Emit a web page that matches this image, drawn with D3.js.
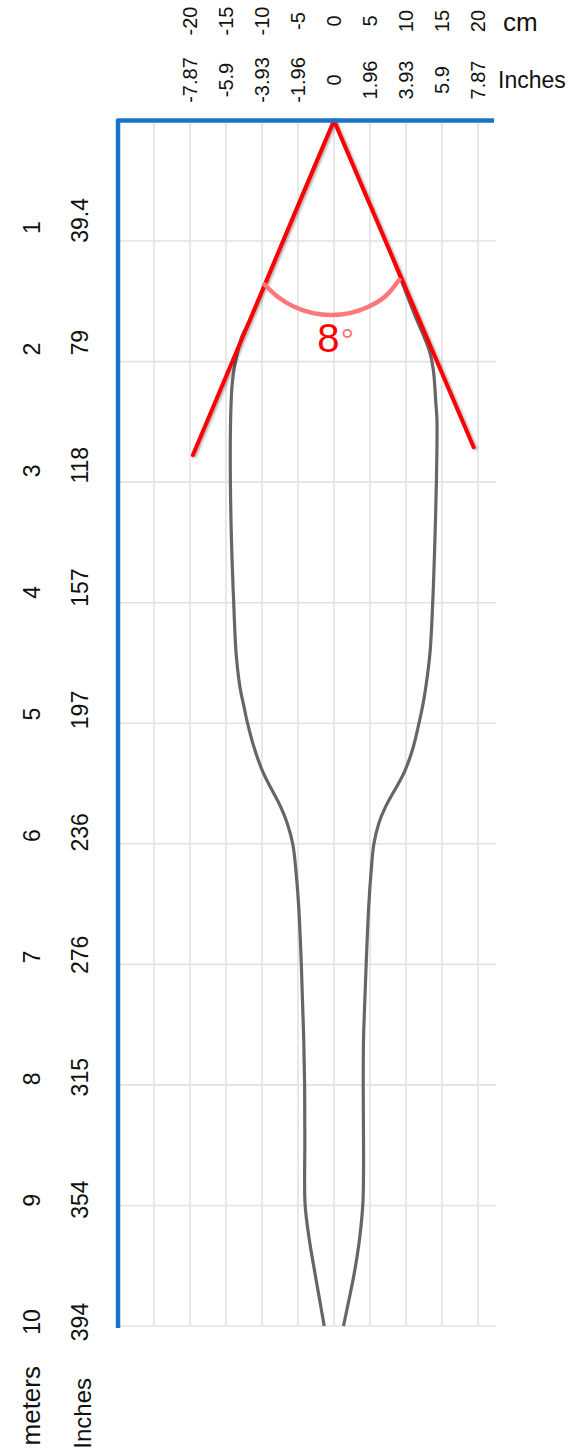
<!DOCTYPE html>
<html>
<head>
<meta charset="utf-8">
<script src="https://cdn.jsdelivr.net/npm/d3@7"></script>
<style>
  html, body { margin: 0; padding: 0; background: #fff; }
  svg { display: block; font-family: "Liberation Sans", Arial, sans-serif; }
</style>
</head>
<body>
<svg id="chart" width="568" height="1452"></svg>
<script>
// ---- data -------------------------------------------------------
const CM_TICKS    = [-20, -15, -10, -5, 0, 5, 10, 15, 20];
const CM_INCHES   = ["-7.87", "-5.9", "-3.93", "-1.96", "0", "1.96", "3.93", "5.9", "7.87"];
const GRID_CM     = [-25, -20, -15, -10, -5, 0, 5, 10, 15, 20];
const METER_TICKS = [1, 2, 3, 4, 5, 6, 7, 8, 9, 10];
const METER_INCHES = ["39.4", "79", "118", "157", "197", "236", "276", "315", "354", "394"];

// outline of the shape, [meters, cm]
const LEFT_EDGE = [
  [0, 0], [0.55, -3.96], [1.10, -7.8], [1.655, -11.67], [1.793, -12.8],
  [1.931, -13.42], [2.07, -13.9], [2.208, -14.17], [2.484, -14.36], [3.0, -14.39],
  [3.587, -14.19], [4.0, -13.93], [4.417, -13.6], [4.697, -13.07], [4.863, -12.5],
  [4.995, -12.03], [5.22, -11.0], [5.412, -9.82], [5.692, -7.42], [5.827, -6.51],
  [6.004, -5.72], [6.242, -5.26], [6.522, -4.9], [6.997, -4.54], [7.35, -4.35],
  [7.627, -4.2], [8.0, -4.08], [8.456, -4.05], [8.996, -4.01], [9.286, -3.42],
  [9.56, -2.65], [9.839, -1.83], [10.0, -1.36]
];
const RIGHT_EDGE = [
  [0, 0], [0.55, 3.9], [1.10, 7.85], [1.655, 11.5], [1.793, 12.5],
  [1.931, 13.35], [2.07, 13.8], [2.346, 14.15], [2.484, 14.3], [3.0, 14.22],
  [3.587, 13.96], [4.0, 13.71], [4.417, 13.33], [4.697, 12.76], [4.863, 12.29],
  [4.995, 11.82], [5.22, 10.9], [5.412, 9.72], [5.692, 7.17], [5.827, 6.24],
  [6.004, 5.53], [6.242, 5.14], [6.522, 4.82], [6.997, 4.47], [7.35, 4.25],
  [7.627, 4.1], [8.0, 4.06], [8.456, 4.1], [8.73, 4.1], [8.996, 4.0],
  [9.286, 3.53], [9.56, 2.82], [9.839, 1.88], [10.0, 1.32]
];

// red tangent lines and the angle arc, [meters, cm]
const RED_LEFT  = [[0, 0], [2.775, -19.6]];
const RED_RIGHT = [[0, 0], [2.71, 19.4]];
const ANGLE_ARC = [
  [1.35, -9.82], [1.466, -7.74], [1.545, -5.54], [1.598, -2.92], [1.613, -0.38],
  [1.598, 2.17], [1.545, 4.79], [1.458, 7.15], [1.309, 9.21]
];
const ANGLE_TEXT = "8";

// ---- scales -----------------------------------------------------
const svg = d3.select("#chart");
const x = d3.scaleLinear().domain([-30, 22.5]).range([118, 496]);
const y = d3.scaleLinear().domain([0, 10]).range([120.5, 1326]);
// left labels sit a bit above their grid line
const yLabM = d3.scaleLinear().domain([0, 10]).range([106, 1322]);
const yLabI = d3.scaleLinear().domain([0, 10]).range([98, 1322]);

const defs = svg.append("defs");
const shadow = defs.append("filter").attr("id", "shadow")
  .attr("x", "-20%").attr("y", "-20%").attr("width", "140%").attr("height", "140%");
shadow.append("feDropShadow").attr("dx", 1.5).attr("dy", 1).attr("stdDeviation", 1)
  .attr("flood-color", "#000").attr("flood-opacity", 0.35);
const soft = defs.append("filter").attr("id", "soft");
soft.append("feGaussianBlur").attr("stdDeviation", 0.5);

// ---- grid -------------------------------------------------------
const grid = svg.append("g").attr("stroke", "#e2e2e2").attr("stroke-width", 1.6);
grid.selectAll("line.v").data(GRID_CM).join("line").attr("class", "v")
  .attr("x1", d => x(d)).attr("x2", d => x(d))
  .attr("y1", y(0)).attr("y2", y(10));
grid.selectAll("line.h").data(METER_TICKS).join("line").attr("class", "h")
  .attr("x1", x(-30)).attr("x2", x(22.5))
  .attr("y1", d => y(d)).attr("y2", d => y(d));

// ---- shape outline ----------------------------------------------
const edge = d3.line()
  .x(d => x(d[1])).y(d => y(d[0]))
  .curve(d3.curveCatmullRom.alpha(0.5));

svg.append("g").selectAll("path").data([LEFT_EDGE, RIGHT_EDGE]).join("path")
  .attr("d", edge)
  .attr("fill", "none")
  .attr("stroke", "#666")
  .attr("stroke-width", 3.2)
  .attr("filter", "url(#soft)");

// ---- red lines + arc --------------------------------------------
const straight = d3.line().x(d => x(d[1])).y(d => y(d[0]));
svg.append("g").selectAll("path").data([RED_LEFT, RED_RIGHT]).join("path")
  .attr("d", straight)
  .attr("fill", "none")
  .attr("stroke", "#ff0000")
  .attr("stroke-width", 4)
  .attr("stroke-linecap", "round")
  .attr("filter", "url(#shadow)");

svg.append("path")
  .datum(ANGLE_ARC)
  .attr("d", edge)
  .attr("fill", "none")
  .attr("stroke", "#ff7878")
  .attr("stroke-width", 4.5);

const low = ANGLE_ARC[4];
const angleLabel = svg.append("text")
  .attr("x", x(low[1]) - 14)
  .attr("y", y(low[0]) + 37)
  .attr("font-size", 40)
  .attr("fill", "#ff0000")
  .text(ANGLE_TEXT);
angleLabel.append("tspan").attr("fill", "#ff7878").attr("font-size", 34)
  .attr("dx", 1).text("°");

// ---- blue frame (top + left) ------------------------------------
svg.append("path")
  .attr("d", d3.line()([[x(-30), y(10) + 2], [x(-30), y(0)], [x(22.5) - 2, y(0)]]))
  .attr("fill", "none")
  .attr("stroke", "#1a74c6")
  .attr("stroke-width", 4.5)
  .attr("stroke-linejoin", "round");

// ---- top labels (rotated) ---------------------------------------
const gTop = svg.append("g").attr("fill", "#111").attr("font-size", 20)
  .attr("text-anchor", "middle").attr("dominant-baseline", "central");
gTop.selectAll("text.cm").data(CM_TICKS).join("text").attr("class", "cm")
  .attr("transform", d => `translate(${x(d)},21) rotate(-90)`)
  .text(d => d);
gTop.selectAll("text.in").data(CM_TICKS).join("text").attr("class", "in")
  .attr("transform", d => `translate(${x(d)},80) rotate(-90)`)
  .text((d, i) => CM_INCHES[i]);

svg.append("text").attr("x", 503).attr("y", 31).attr("font-size", 26)
  .attr("fill", "#111").text("cm");
svg.append("text").attr("x", 498).attr("y", 88).attr("font-size", 23)
  .attr("fill", "#111").text("Inches");

// ---- left labels (rotated) --------------------------------------
const gLeft = svg.append("g").attr("fill", "#111").attr("font-size", 23)
  .attr("text-anchor", "middle").attr("dominant-baseline", "central");
gLeft.selectAll("text.m").data(METER_TICKS).join("text").attr("class", "m")
  .attr("transform", d => `translate(32,${yLabM(d)}) rotate(-90)`)
  .text(d => d);
gLeft.selectAll("text.in").data(METER_TICKS).join("text").attr("class", "in")
  .attr("transform", d => `translate(80,${yLabI(d)}) rotate(-90)`)
  .text((d, i) => METER_INCHES[i]);

svg.append("text").attr("transform", "translate(31,1366) rotate(-90)")
  .attr("text-anchor", "end").attr("dominant-baseline", "central")
  .attr("font-size", 26).attr("fill", "#111").text("meters");
svg.append("text").attr("transform", "translate(82,1378) rotate(-90)")
  .attr("text-anchor", "end").attr("dominant-baseline", "central")
  .attr("font-size", 24).attr("fill", "#111").text("Inches");
</script>
</body>
</html>
